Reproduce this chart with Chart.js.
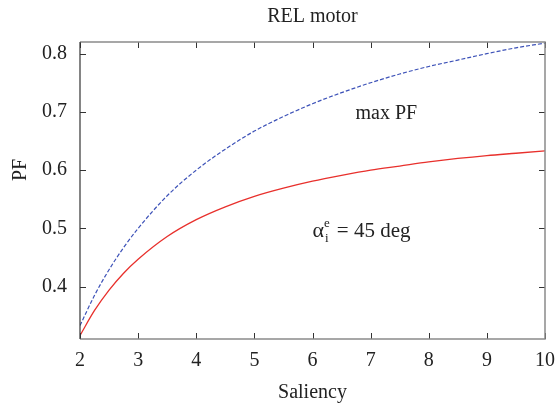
<!DOCTYPE html>
<html lang="en">
<head>
<meta charset="UTF-8">
<title>REL motor</title>
<script src="https://cdn.jsdelivr.net/npm/chart.js"></script>
<style>
    html, body { margin: 0; padding: 0; background: #fff; }
    #wrap { width: 555px; height: 407px; position: relative; }
</style>
</head>
<body>
<div id="wrap"><canvas id="pfChart"></canvas></div>
<script>
// saliency values and power factor for both curves
const saliency = [2, 2.25, 2.5, 2.75, 3, 3.5, 4, 4.5, 5, 5.5, 6, 6.5, 7, 7.5, 8, 8.5, 9, 9.5, 10];
const maxPF   = [0.333, 0.385, 0.429, 0.467, 0.500, 0.556, 0.600, 0.636, 0.667, 0.692, 0.714, 0.733, 0.750, 0.765, 0.778, 0.789, 0.800, 0.810, 0.818];
const pf45    = [0.316, 0.359, 0.394, 0.423, 0.447, 0.486, 0.515, 0.537, 0.555, 0.569, 0.581, 0.591, 0.600, 0.607, 0.614, 0.620, 0.625, 0.629, 0.633];
const xTicks = [2, 3, 4, 5, 6, 7, 8, 9, 10];
const yTicks = [0.4, 0.5, 0.6, 0.7, 0.8];

const FONT = '"Liberation Serif", "DejaVu Serif", serif';
const INK = '#222';

const toPoints = (ys) => saliency.map((x, i) => ({ x: x, y: ys[i] }));

// frame, inward ticks, tick labels and text (gnuplot look)
const decorations = {
    id: 'decorations',
    afterDraw(chart) {
        const ctx = chart.ctx;
        const a = chart.chartArea;
        const xs = chart.scales.x, ys = chart.scales.y;
        ctx.save();

        // inward ticks
        ctx.strokeStyle = '#333';
        ctx.lineWidth = 1;
        const tl = 6;
        xTicks.forEach(v => {
            const px = Math.round(xs.getPixelForValue(v)) + 0.5;
            ctx.beginPath();
            ctx.moveTo(px, a.bottom); ctx.lineTo(px, a.bottom - tl);
            ctx.moveTo(px, a.top); ctx.lineTo(px, a.top + tl);
            ctx.stroke();
        });
        yTicks.forEach(v => {
            const py = Math.round(ys.getPixelForValue(v)) + 0.5;
            ctx.beginPath();
            ctx.moveTo(a.left, py); ctx.lineTo(a.left + tl, py);
            ctx.moveTo(a.right, py); ctx.lineTo(a.right - tl, py);
            ctx.stroke();
        });

        // frame
        ctx.strokeStyle = '#8a8a8a';
        ctx.lineWidth = 1.5;
        ctx.beginPath();
        ctx.moveTo(a.left, a.top); ctx.lineTo(a.right, a.top);
        ctx.lineTo(a.right, a.bottom); ctx.lineTo(a.left, a.bottom);
        ctx.stroke();
        ctx.strokeStyle = '#333';
        ctx.lineWidth = 1.2;
        ctx.beginPath();
        ctx.moveTo(a.left, a.top); ctx.lineTo(a.left, a.bottom);
        ctx.stroke();

        // tick labels
        ctx.fillStyle = INK;
        ctx.font = '20px ' + FONT;
        ctx.textAlign = 'center';
        ctx.textBaseline = 'middle';
        xTicks.forEach(v => ctx.fillText(String(v), xs.getPixelForValue(v), a.bottom + 22));
        ctx.textAlign = 'right';
        yTicks.forEach(v => ctx.fillText(v.toFixed(1), a.left - 13, ys.getPixelForValue(v)));

        // titles
        ctx.textAlign = 'center';
        ctx.font = '20px ' + FONT;
        ctx.fillText('REL motor', (a.left + a.right) / 2, 17);
        ctx.fillText('Saliency', (a.left + a.right) / 2, 393);
        ctx.save();
        ctx.translate(21, 170);
        ctx.rotate(-Math.PI / 2);
        ctx.fillText('PF', 0, 0);
        ctx.restore();

        // curve labels
        ctx.fillText('max PF', xs.getPixelForValue(7.27), ys.getPixelForValue(0.6965));

        ctx.textAlign = 'left';
        ctx.textBaseline = 'alphabetic';
        let x = xs.getPixelForValue(6.0);
        const base = ys.getPixelForValue(0.486);
        ctx.font = '22px ' + FONT;
        ctx.fillText('\u03B1', x, base);
        x += ctx.measureText('\u03B1').width;
        ctx.font = '13px ' + FONT;
        ctx.fillText('i', x + 1, base + 5);
        ctx.fillText('e', x, base - 10);
        x += ctx.measureText('e').width + 7;
        ctx.font = '21px ' + FONT;
        ctx.fillText('= 45 deg', x, base);

        ctx.restore();
    }
};

new Chart(document.getElementById('pfChart'), {
    type: 'line',
    data: {
        datasets: [
            {
                label: 'max PF',
                data: toPoints(maxPF),
                borderColor: '#3d52b8',
                borderWidth: 1.2,
                borderDash: [4, 2],
                pointRadius: 0,
                cubicInterpolationMode: 'monotone',
                fill: false
            },
            {
                label: 'alpha = 45 deg',
                data: toPoints(pf45),
                borderColor: '#e8302c',
                borderWidth: 1.3,
                pointRadius: 0,
                cubicInterpolationMode: 'monotone',
                fill: false
            }
        ]
    },
    options: {
        responsive: true,
        maintainAspectRatio: false,
        animation: false,
        layout: { padding: { top: 42, right: 10, left: 0, bottom: 0 } },
        plugins: {
            legend: { display: false },
            title: { display: false },
            tooltip: { enabled: false }
        },
        scales: {
            x: {
                type: 'linear',
                min: 2,
                max: 10,
                afterBuildTicks: (s) => { s.ticks = xTicks.map(v => ({ value: v })); },
                afterFit: (s) => { s.height = 68; },
                grid: { display: false, drawTicks: false },
                border: { display: false },
                ticks: { display: false }
            },
            y: {
                type: 'linear',
                min: 0.31,
                max: 0.82,
                afterBuildTicks: (s) => { s.ticks = yTicks.map(v => ({ value: v })); },
                afterFit: (s) => { s.width = 80; },
                grid: { display: false, drawTicks: false },
                border: { display: false },
                ticks: { display: false }
            }
        }
    },
    plugins: [decorations]
});
</script>
</body>
</html>
